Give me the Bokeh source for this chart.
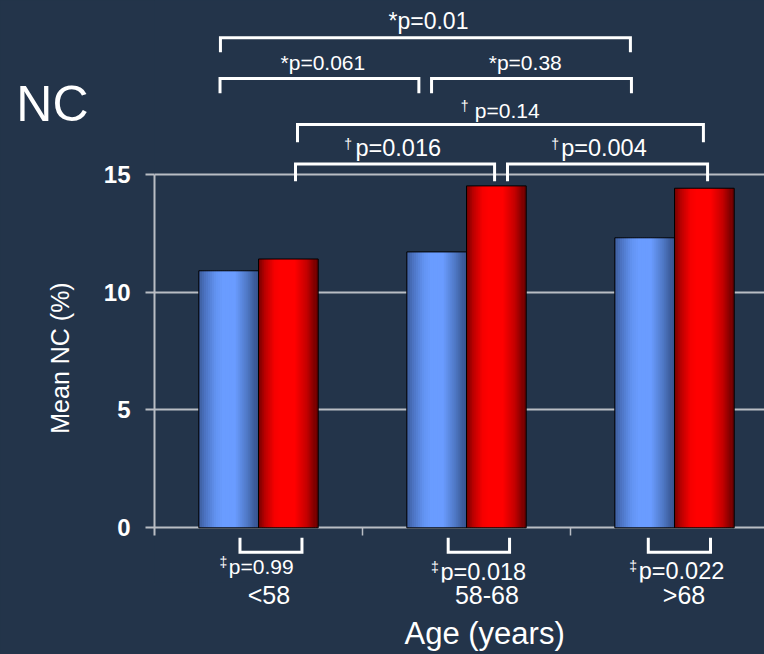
from bokeh.plotting import figure
from bokeh.models import Range1d, LinearAxis, FixedTicker, Grid, ColumnDataSource
from bokeh.core.properties import value
from bokeh.embed import file_html
from bokeh.resources import INLINE

# ---------------- data ----------------
age_groups = ["<58", "58-68", ">68"]
series_blue = [10.9, 11.7, 12.3]
series_red = [11.4, 14.5, 14.4]
y_ticks = [0, 5, 10, 15]
between_p = ["*p=0.01", "*p=0.061", "*p=0.38", "\u2020p=0.14", "\u2020p=0.016", "\u2020p=0.004"]
within_p = ["\u2021p=0.99", "\u2021p=0.018", "\u2021p=0.022"]
x_title = "Age (years)"
y_title = "Mean NC (%)"
panel_label = "NC"

# ---------------- layout ----------------
W, H = 764, 654
BORDER_LEFT, BORDER_BOTTOM = 154, 72
GROUP_PX = 208.0          # pixels per age group
PX_PER_UNIT = 23.58       # pixels per 1 % on the y axis
ZERO_FROM_TOP = 527.3     # canvas y of value 0
FONT = "Liberation Sans"
BG = "#23344a"
GRID = "#b9bdc4"

x_end = (W - BORDER_LEFT) / GROUP_PX
y_end = ZERO_FROM_TOP / PX_PER_UNIT
y_start = -((H - BORDER_BOTTOM) - ZERO_FROM_TOP) / PX_PER_UNIT

p = figure(width=W, height=H, x_range=Range1d(0, x_end), y_range=Range1d(y_start, y_end),
           output_backend="svg", toolbar_location=None,
           x_axis_location=None, y_axis_location=None,
           min_border_left=BORDER_LEFT, min_border_right=0, min_border_top=0,
           min_border_bottom=BORDER_BOTTOM)
p.styles = {"background-color": BG}
p.background_fill_color = BG
p.border_fill_color = BG
p.outline_line_color = None
p.xgrid.visible = False
p.ygrid.visible = False

# ---- grid (incl. baseline at 0) ----
grid = Grid(dimension=1, ticker=FixedTicker(ticks=y_ticks),
            grid_line_color=GRID, grid_line_width=2)
p.add_layout(grid)

# ---- bars with cylinder shading ----
BAR_W = 0.287
blue_stops = [(0.0, "#3a5896"), (0.12, "#4c74c2"), (0.3, "#6394f2"), (0.42, "#6a9cff"),
              (0.62, "#6a9cff"), (0.82, "#5079c6"), (1.0, "#34508a")]
red_stops = [(0.0, "#6a0000"), (0.12, "#b80000"), (0.28, "#f60000"), (0.38, "#ff0000"),
             (0.62, "#ff0000"), (0.82, "#c40000"), (1.0, "#640000")]


def mix(stops, t):
    for (t0, c0), (t1, c1) in zip(stops[:-1], stops[1:]):
        if t <= t1:
            f = (t - t0) / (t1 - t0)
            a = [int(c0[i:i + 2], 16) for i in (1, 3, 5)]
            b = [int(c1[i:i + 2], 16) for i in (1, 3, 5)]
            return "#%02x%02x%02x" % tuple(round(u + (v - u) * f) for u, v in zip(a, b))
    return stops[-1][1]


N = 30
sx, sw, st, sc = [], [], [], []
ox, ot = [], []
for i in range(len(age_groups)):
    for vals, stops, sgn in ((series_blue, blue_stops, -1), (series_red, red_stops, 1)):
        xc = i + 0.5 + sgn * BAR_W / 2
        ox.append(xc)
        ot.append(vals[i])
        for k in range(N):
            t = (k + 0.5) / N
            sx.append(xc - BAR_W / 2 + t * BAR_W)
            sw.append(BAR_W / N * (1.8 if 0 < k < N - 1 else 1.0))
            st.append(vals[i])
            sc.append(mix(stops, t))

p.vbar(x="x", width="w", top="top", bottom=0, fill_color="c", line_color=None,
       source=ColumnDataSource(dict(x=sx, w=sw, top=st, c=sc)))
p.vbar(x=ox, width=BAR_W, top=ot, bottom=0, fill_color=None, line_color="black", line_width=1)

# ---- x tick marks at group boundaries ----
p.segment(x0=[1, 2], y0=[0, 0], x1=[1, 2], y1=[-0.33, -0.33], line_color=GRID, line_width=1.5)

# ---- significance brackets ----
upper_br = [(0.317, 2.288, 20.78, 20.17), (0.315, 1.271, 19.05, 18.43), (1.332, 2.293, 19.05, 18.43),
            (0.6875, 2.639, 17.10, 16.35), (0.678, 1.635, 15.43, 14.70), (1.697, 2.659, 15.43, 14.70)]
lower_br = [(0.411, 0.709, -1.04, -0.42), (1.412, 1.707, -1.04, -0.42), (2.374, 2.673, -1.04, -0.42)]
bxs, bys = [], []
for x0, x1, yb, yl in upper_br + lower_br:
    bxs.append([x0, x0, x1, x1])
    bys.append([yl, yb, yb, yl])
p.multi_line(xs=bxs, ys=bys, line_color="white", line_width=3, line_join="miter")

# ---- p-value texts ----
# (start x of main text, baseline y, font px, symbol right x)
TEXT_LIFT = 7 / PX_PER_UNIT
SYM_RAISE = 4.5 / PX_PER_UNIT
txt_layout = [(1.125, 21.20, 23, None), (0.606, 19.44, 21, None), (1.607, 19.44, 21, None),
              (1.540, 17.41, 21, 1.510), (0.966, 15.79, 23.5, 0.950), (1.955, 15.79, 23.5, 1.945),
              (0.357, -1.95, 21, 0.350), (1.375, -2.16, 23.5, 1.367), (2.328, -2.12, 23.5, 2.320)]
mx, my, mt, ms = [], [], [], []
gx, gy, gt = [], [], []
for lab, (x, y, fs, symx) in zip(between_p + within_p, txt_layout):
    y = y + TEXT_LIFT
    if symx is None:
        mx.append(x); my.append(y); mt.append(lab); ms.append(f"{fs}px")
    else:
        gx.append(symx); gy.append(y + SYM_RAISE); gt.append(lab[0])
        mx.append(x); my.append(y); mt.append(lab[1:]); ms.append(f"{fs}px")
p.text(x="x", y="y", text="t", text_font_size="s", text_color="white", text_align="left",
       text_baseline="alphabetic", text_font=value(FONT),
       source=ColumnDataSource(dict(x=mx, y=my, t=mt, s=ms)))
p.text(x=gx, y=gy, text=gt, text_font_size="14px", text_color="white", text_align="right",
       text_baseline="alphabetic", text_font=value(FONT))


def plain_axis(ax, size, standoff):
    ax.axis_line_color = None
    ax.major_tick_line_color = None
    ax.minor_tick_line_color = None
    ax.major_tick_out = 0
    ax.major_tick_in = 0
    ax.major_label_text_color = "white"
    ax.major_label_text_font = FONT
    ax.major_label_text_font_size = size
    ax.major_label_standoff = standoff


# ---- y axis ----
yax = LinearAxis(ticker=FixedTicker(ticks=y_ticks), bounds=(-0.33, 15))
yax.axis_line_color = GRID
yax.axis_line_width = 2
yax.major_tick_line_color = GRID
yax.major_tick_line_width = 2
yax.major_tick_out = 9
yax.major_tick_in = 0
yax.minor_tick_line_color = None
yax.major_label_text_color = "white"
yax.major_label_text_font = FONT
yax.major_label_text_font_style = "bold"
yax.major_label_text_font_size = "24px"
yax.major_label_standoff = 15
p.add_layout(yax, "left")

# panel label "NC" (horizontal label further left)
nc_pos = 17.97
yax_nc = LinearAxis(ticker=FixedTicker(ticks=[nc_pos]), major_label_overrides={nc_pos: panel_label})
plain_axis(yax_nc, "50px", 12)
p.add_layout(yax_nc, "left")

# y axis title (vertical)
y_title_pos = 7.2
yax_t = LinearAxis(ticker=FixedTicker(ticks=[y_title_pos]), major_label_overrides={y_title_pos: y_title})
plain_axis(yax_t, "25px", -61)
yax_t.major_label_orientation = "vertical"
p.add_layout(yax_t, "left")

# ---- x axes: categories and title ----
cat_pos = [0.550, 1.598, 2.546]
xax = LinearAxis(ticker=FixedTicker(ticks=cat_pos), major_label_overrides=dict(zip(cat_pos, age_groups)))
plain_axis(xax, "25px", -2)
p.add_layout(xax, "below")

x_title_pos = 1.587
xax_t = LinearAxis(ticker=FixedTicker(ticks=[x_title_pos]), major_label_overrides={x_title_pos: x_title})
plain_axis(xax_t, "31px", 4)
p.add_layout(xax_t, "below")

open("out.html", "w").write(file_html(p, INLINE))
